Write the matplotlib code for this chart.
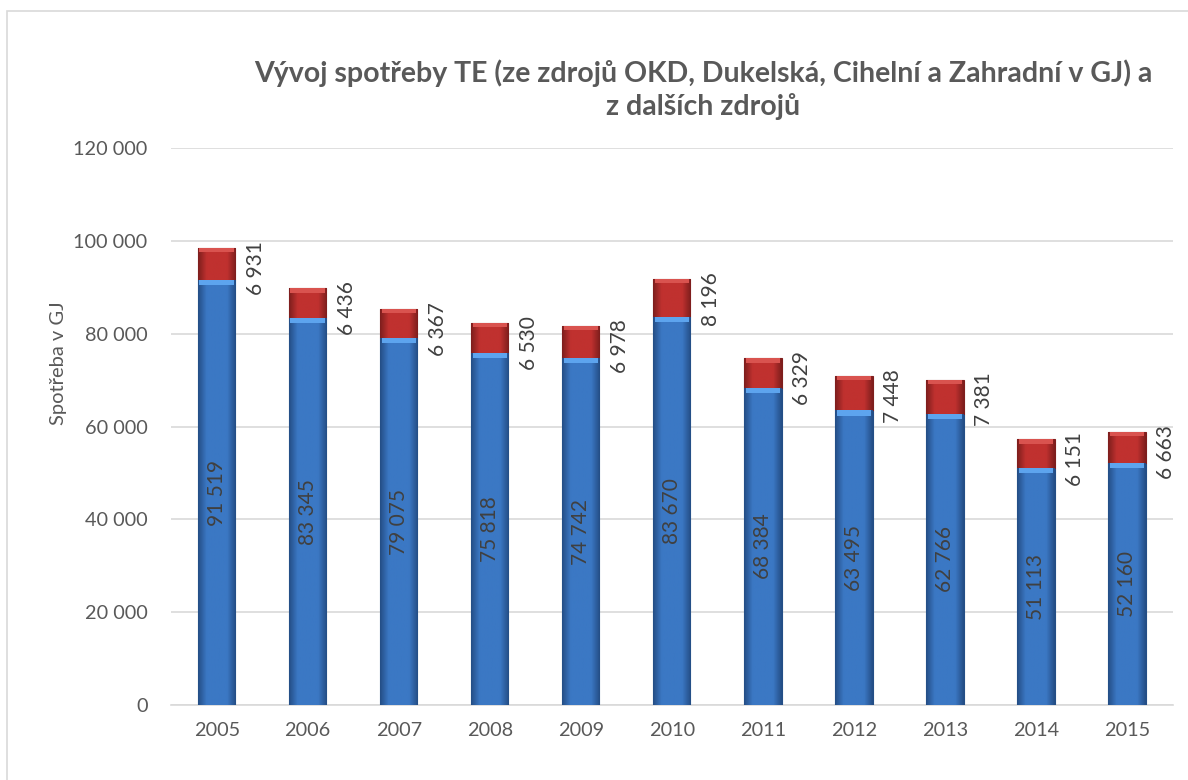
import numpy as np
import matplotlib
matplotlib.use("Agg")
import matplotlib.pyplot as plt
from matplotlib.patches import Rectangle

plt.rcParams['font.family'] = ['Lato', 'DejaVu Sans']

years = ['2005', '2006', '2007', '2008', '2009', '2010', '2011', '2012', '2013', '2014', '2015']
okd = [91519, 83345, 79075, 75818, 74742, 83670, 68384, 63495, 62766, 51113, 52160]
other = [6931, 6436, 6367, 6530, 6978, 8196, 6329, 7448, 7381, 6151, 6663]
title = 'Vývoj spotřeby TE (ze zdrojů OKD, Dukelská, Cihelní a Zahradní v GJ) a\nz dalších zdrojů'
ylabel = 'Spotřeba v GJ'

TEXT = '#595959'
LABEL = '#404040'
BLUE = '#3B78C4'
BLUE_EDGE = '#244E86'
RED = '#C0312F'
RED_EDGE = '#7E1E1D'


def fmt(v):
    return '{:,}'.format(int(v)).replace(',', ' ')


def shade(ax, bars, dark, light):
    # horizontal gradient, darker at the sides
    t = np.linspace(0, 1, 64)
    prof = 1 - np.abs(t - 0.5) * 2
    prof = np.clip(prof * 2.2, 0, 1)
    c0 = np.array(matplotlib.colors.to_rgb(dark))
    c1 = np.array(matplotlib.colors.to_rgb(light))
    img = c0[None, :] + (c1 - c0)[None, :] * prof[:, None]
    img = img[None, :, :]
    for b in bars:
        x0, y0 = b.get_x(), b.get_y()
        w, h = b.get_width(), b.get_height()
        im = ax.imshow(img, extent=(x0, x0 + w, y0, y0 + h), aspect='auto',
                       zorder=b.get_zorder() + 0.1, interpolation='bilinear')
        im.set_clip_path(b)


fig = plt.figure(figsize=(11.88, 7.8), dpi=100)
ax = fig.add_axes([0.144, 0.096, 0.843, 0.714])

x = np.arange(len(years))
w = 0.41
b1 = ax.bar(x, okd, w, color=BLUE, edgecolor=BLUE_EDGE, linewidth=0.8, zorder=3)
b2 = ax.bar(x, other, w, bottom=okd, color=RED, edgecolor=RED_EDGE, linewidth=0.8, zorder=3)
shade(ax, b1, BLUE_EDGE, BLUE)
shade(ax, b2, RED_EDGE, RED)

# light bevel at the top of each segment
for i in range(len(years)):
    ax.bar(x[i], 1100, w * 0.92, bottom=okd[i] - 1100, color='#5DA4EE', linewidth=0, zorder=4)
    ax.bar(x[i], 900, w * 0.92, bottom=okd[i] + other[i] - 900, color='#D9534F', linewidth=0, zorder=4)

for i in range(len(years)):
    ax.text(x[i], okd[i] / 2, fmt(okd[i]), rotation=90, ha='center', va='center',
            fontsize=15, color=LABEL, zorder=6)
    ax.annotate(fmt(other[i]), (x[i] + 0.43, okd[i] + other[i]), xytext=(0, 5),
                textcoords='offset points', rotation=90, ha='center', va='top',
                fontsize=15, color=LABEL, zorder=6)

ax.set_xlim(-0.5, 10.5)
ax.set_ylim(0, 120000)
ax.set_yticks(np.arange(0, 120001, 20000))
ax.set_yticklabels([fmt(v) for v in np.arange(0, 120001, 20000)])
ax.set_xticks(x)
ax.set_xticklabels(years)
ax.tick_params(axis='both', length=0, labelsize=14.3, labelcolor=TEXT)
ax.tick_params(axis='y', pad=17)
ax.tick_params(axis='x', pad=12)
ax.grid(axis='y', color='#D9D9D9', linewidth=1.2, zorder=0)
for s in ['top', 'right', 'left']:
    ax.spines[s].set_visible(False)
ax.spines['bottom'].set_color('#D9D9D9')
ax.spines['bottom'].set_linewidth(1.2)

fig.text(0.049, 0.535, ylabel, rotation=90, ha='center', va='center', fontsize=14.5, color=TEXT)
fig.text(0.592, 0.885, title, ha='center', va='center', fontsize=20.5, fontweight='bold',
         color=TEXT, linespacing=1.3)

fig.add_artist(Rectangle((7 / 1188, -0.01), 1.02, 1 - 11 / 780 + 0.01, transform=fig.transFigure,
                         fill=False, edgecolor='#D9D9D9', linewidth=1.2))

fig.savefig('out.png', dpi=100)
